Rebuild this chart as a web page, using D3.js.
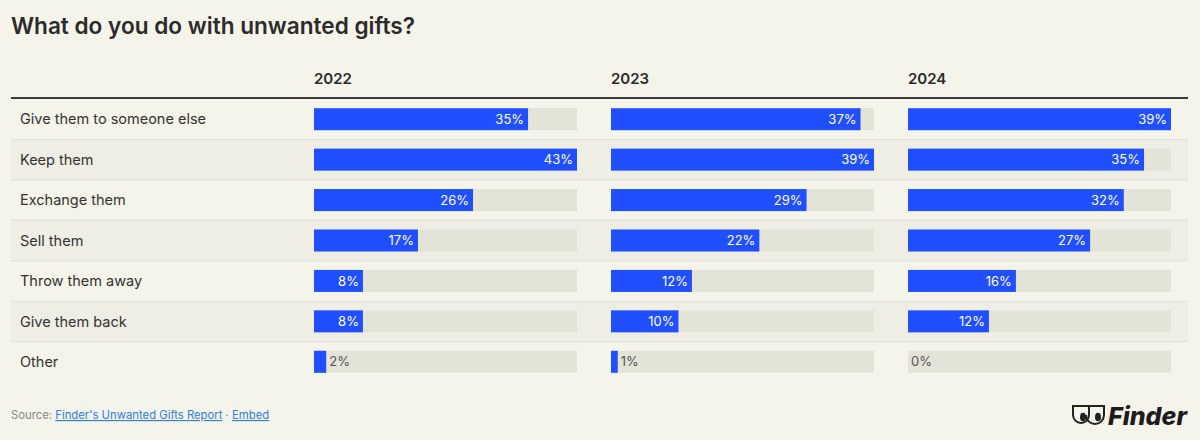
<!DOCTYPE html>
<html>
<head>
<meta charset="utf-8">
<script src="https://cdn.jsdelivr.net/npm/d3@7"></script>
<style>
  body { margin: 0; background: #f5f4ea; }
  svg { display: block; font-family: Inter, "Noto Sans", sans-serif; }
</style>
</head>
<body>
<svg id="chart" width="1200" height="440"></svg>
<script>
// data
const answers = ['Give them to someone else', 'Keep them', 'Exchange them', 'Sell them',
    'Throw them away', 'Give them back', 'Other'];
const years = ['2022', '2023', '2024'];
const values2022 = [35, 43, 26, 17, 8, 8, 2];
const values2023 = [37, 39, 29, 22, 12, 10, 1];
const values2024 = [39, 35, 32, 27, 16, 12, 0];
const seriesByYear = [values2022, values2023, values2024];

const svg = d3.select('#chart');

// title
svg.append('text')
    .attr('x', 11).attr('y', 34)
    .attr('font-size', 22.6).attr('font-weight', 600)
    .attr('fill', '#2b2b2b')
    .text('What do you do with unwanted gifts?');

// rows
const y = d3.scaleBand()
    .domain(answers)
    .range([99, 382]);

const cols = d3.scaleBand()
    .domain(years)
    .range([314, 1171])
    .paddingInner(0.1145)
    .paddingOuter(0);

// row shading and separators
const rows = svg.append('g');
rows.selectAll('rect')
    .data(answers)
    .join('rect')
    .attr('x', 11)
    .attr('width', 1188 - 11)
    .attr('y', d => y(d))
    .attr('height', y.bandwidth())
    .attr('fill', (d, i) => i % 2 ? '#efeee5' : 'none');

rows.selectAll('line')
    .data(answers.slice(0, -1))
    .join('line')
    .attr('x1', 11).attr('x2', 1188)
    .attr('y1', d => y(d) + y.bandwidth())
    .attr('y2', d => y(d) + y.bandwidth())
    .attr('stroke', '#e6e5dc')
    .attr('stroke-width', 1.5);

rows.selectAll('text')
    .data(answers)
    .join('text')
    .attr('x', 20)
    .attr('y', d => y(d) + y.bandwidth() / 2)
    .attr('dy', '0.36em')
    .attr('font-size', 14.5)
    .attr('fill', '#333')
    .text(d => d);

// header
svg.append('line')
    .attr('x1', 11).attr('x2', 1188)
    .attr('y1', 98).attr('y2', 98)
    .attr('stroke', '#3a3a3a').attr('stroke-width', 2);

svg.selectAll('.year')
    .data(years)
    .join('text')
    .attr('class', 'year')
    .attr('x', d => cols(d))
    .attr('y', 84)
    .attr('font-size', 15).attr('font-weight', 600)
    .attr('fill', '#2b2b2b')
    .text(d => d);

// bars, each column scaled to its own max
const barH = 22;
years.forEach((yr, j) => {
    const vals = seriesByYear[j];
    const x = d3.scaleLinear()
        .domain([0, d3.max(vals)])
        .range([0, cols.bandwidth()]);
    const g = svg.append('g').attr('transform', `translate(${cols(yr)},0)`);
    const data = answers.map((a, i) => ({ a, v: vals[i] }));

    g.selectAll('.track')
        .data(data)
        .join('rect')
        .attr('class', 'track')
        .attr('x', 0)
        .attr('y', d => y(d.a) + (y.bandwidth() - barH) / 2)
        .attr('width', cols.bandwidth())
        .attr('height', barH)
        .attr('fill', '#e4e3d8');

    g.selectAll('.bar')
        .data(data)
        .join('rect')
        .attr('class', 'bar')
        .attr('x', 0)
        .attr('y', d => y(d.a) + (y.bandwidth() - barH) / 2)
        .attr('width', d => x(d.v))
        .attr('height', barH)
        .attr('fill', '#1f4fff');

    g.selectAll('.lbl')
        .data(data)
        .join('text')
        .attr('class', 'lbl')
        .attr('y', d => y(d.a) + y.bandwidth() / 2)
        .attr('dy', '0.36em')
        .attr('font-size', 13)
        .each(function (d) {
            const inside = x(d.v) > 35;
            d3.select(this)
                .attr('x', inside ? x(d.v) - 4 : x(d.v) + 3)
                .attr('text-anchor', inside ? 'end' : 'start')
                .attr('fill', inside ? '#fff' : '#555');
        })
        .text(d => d.v + '%');
});

// footer
const foot = svg.append('text')
    .attr('x', 11).attr('y', 419)
    .attr('font-size', 11.3);
foot.append('tspan').attr('fill', '#888').text('Source: ');
foot.append('tspan').attr('fill', '#2f80e0').attr('text-decoration', 'underline')
    .text("Finder's Unwanted Gifts Report");
foot.append('tspan').attr('fill', '#888').text(' · ');
foot.append('tspan').attr('fill', '#2f80e0').attr('text-decoration', 'underline')
    .text('Embed');

// logo
const logo = svg.append('g').attr('transform', 'translate(1072,405)');
logo.append('path')
    .attr('d', 'M1,1 H17 V10 A8,8 0 0 1 1,10 Z')
    .attr('fill', 'none').attr('stroke', '#222').attr('stroke-width', 2);
logo.append('path')
    .attr('d', 'M14,1 H32 V10 A9,9 0 0 1 14,10')
    .attr('fill', 'none').attr('stroke', '#222').attr('stroke-width', 2);
logo.append('ellipse').attr('cx', 11).attr('cy', 12).attr('rx', 3).attr('ry', 4.3).attr('fill', '#222');
logo.append('ellipse').attr('cx', 26).attr('cy', 12).attr('rx', 3).attr('ry', 4.3).attr('fill', '#222');
logo.append('text')
    .attr('x', 36).attr('y', 20)
    .attr('font-size', 25).attr('font-weight', 800)
    .attr('font-style', 'italic')
    .attr('fill', '#1c1c1c')
    .text('Finder');
</script>
</body>
</html>
